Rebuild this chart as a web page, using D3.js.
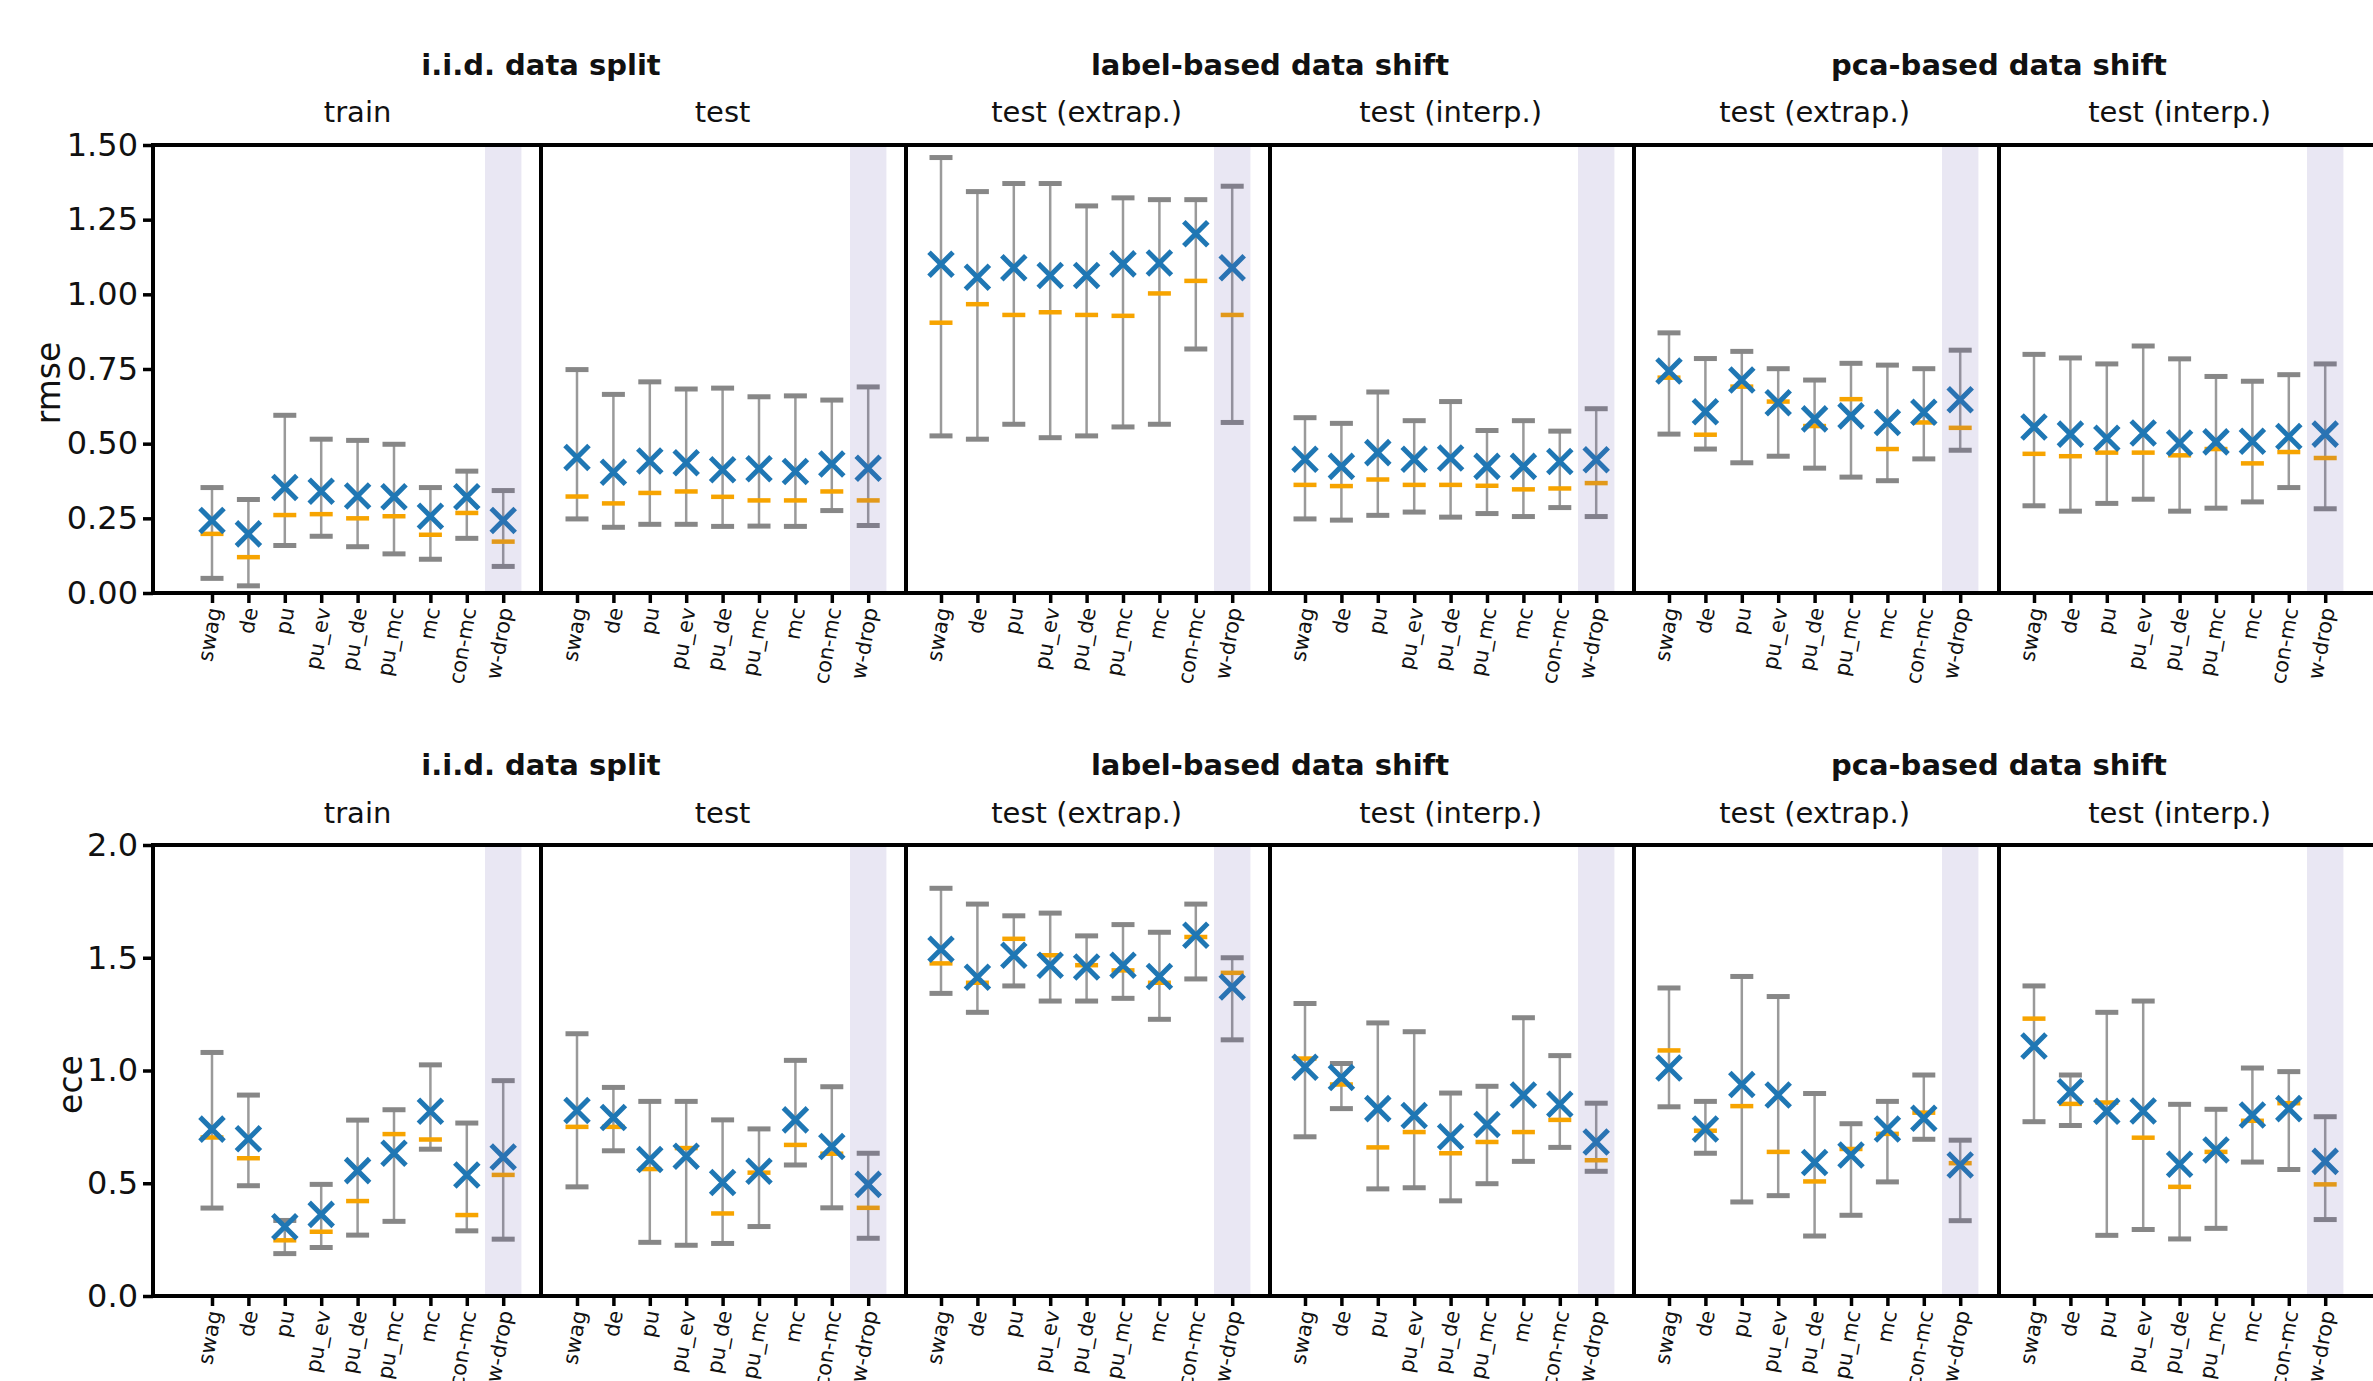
<!DOCTYPE html>
<html>
<head>
<meta charset="utf-8">
<script src="https://cdn.jsdelivr.net/npm/d3@7"></script>
<style>
  body { margin: 0; background: #fff; }
  text { font-family: "DejaVu Sans", sans-serif; }
</style>
</head>
<body>
<svg width="2373" height="1381"></svg>
<script>
// methods on the x axis
const methods = ["swag", "de", "pu", "pu_ev", "pu_de", "pu_mc", "mc", "con-mc", "w-drop"];
const groupTitles = ["i.i.d. data split", "label-based data shift", "pca-based data shift"];
const panelTitles = ["train", "test", "test (extrap.)", "test (interp.)", "test (extrap.)", "test (interp.)"];
const rmseTicks = [0, 0.25, 0.5, 0.75, 1.0, 1.25, 1.5];
const eceTicks = [0, 0.5, 1.0, 1.5, 2.0];

// rmse, one row per panel (train, test, label extrap, label interp, pca extrap, pca interp)
const rmseHigh = [
  [0.353, 0.313, 0.595, 0.515, 0.511, 0.498, 0.353, 0.408, 0.343],
  [0.748, 0.665, 0.707, 0.683, 0.686, 0.657, 0.660, 0.646, 0.690],
  [1.458, 1.344, 1.371, 1.371, 1.296, 1.323, 1.317, 1.317, 1.362],
  [0.587, 0.568, 0.673, 0.577, 0.641, 0.544, 0.577, 0.542, 0.617],
  [0.871, 0.785, 0.809, 0.751, 0.713, 0.769, 0.763, 0.751, 0.813],
  [0.799, 0.787, 0.767, 0.827, 0.784, 0.725, 0.709, 0.731, 0.767]
];
const rmseLow = [
  [0.049, 0.024, 0.159, 0.190, 0.155, 0.131, 0.113, 0.183, 0.089],
  [0.248, 0.220, 0.230, 0.230, 0.223, 0.224, 0.223, 0.276, 0.226],
  [0.526, 0.515, 0.565, 0.520, 0.526, 0.556, 0.565, 0.817, 0.571],
  [0.248, 0.244, 0.260, 0.271, 0.254, 0.266, 0.256, 0.286, 0.256],
  [0.532, 0.482, 0.436, 0.458, 0.418, 0.388, 0.376, 0.449, 0.478],
  [0.292, 0.274, 0.300, 0.314, 0.274, 0.284, 0.305, 0.353, 0.282]
];
const rmseMean = [
  [0.243, 0.198, 0.353, 0.341, 0.325, 0.322, 0.257, 0.322, 0.243],
  [0.454, 0.404, 0.442, 0.436, 0.413, 0.416, 0.407, 0.432, 0.418],
  [1.101, 1.057, 1.089, 1.063, 1.063, 1.102, 1.105, 1.203, 1.089],
  [0.448, 0.424, 0.470, 0.448, 0.452, 0.424, 0.424, 0.440, 0.446],
  [0.743, 0.607, 0.713, 0.637, 0.583, 0.593, 0.571, 0.605, 0.647],
  [0.556, 0.532, 0.518, 0.536, 0.502, 0.506, 0.508, 0.524, 0.532]
];
const rmseMedian = [
  [0.198, 0.120, 0.261, 0.264, 0.250, 0.257, 0.195, 0.268, 0.172],
  [0.323, 0.300, 0.335, 0.340, 0.322, 0.310, 0.310, 0.340, 0.310],
  [0.905, 0.967, 0.931, 0.940, 0.931, 0.928, 1.003, 1.045, 0.931],
  [0.362, 0.358, 0.380, 0.362, 0.362, 0.359, 0.347, 0.350, 0.368],
  [0.721, 0.530, 0.691, 0.641, 0.559, 0.649, 0.482, 0.571, 0.553],
  [0.466, 0.458, 0.470, 0.470, 0.461, 0.482, 0.434, 0.472, 0.452]
];

// ece
const eceHigh = [
  [1.080, 0.891, 0.335, 0.495, 0.780, 0.826, 1.025, 0.767, 0.955],
  [1.163, 0.925, 0.863, 0.863, 0.781, 0.741, 1.045, 0.928, 0.633],
  [1.808, 1.738, 1.686, 1.698, 1.597, 1.647, 1.613, 1.738, 1.500],
  [1.297, 1.031, 1.211, 1.172, 0.900, 0.930, 1.234, 1.066, 0.855],
  [1.366, 0.863, 1.417, 1.328, 0.898, 0.764, 0.863, 0.980, 0.691],
  [1.375, 0.980, 1.258, 1.308, 0.850, 0.828, 1.011, 0.995, 0.795]
];
const eceLow = [
  [0.390, 0.489, 0.188, 0.215, 0.270, 0.331, 0.651, 0.289, 0.252],
  [0.484, 0.644, 0.238, 0.225, 0.233, 0.308, 0.581, 0.391, 0.256],
  [1.342, 1.258, 1.375, 1.308, 1.308, 1.320, 1.227, 1.406, 1.136],
  [0.706, 0.831, 0.475, 0.480, 0.422, 0.498, 0.597, 0.659, 0.553],
  [0.839, 0.633, 0.417, 0.445, 0.266, 0.358, 0.506, 0.695, 0.334],
  [0.773, 0.756, 0.269, 0.295, 0.253, 0.300, 0.594, 0.561, 0.339]
];
const eceMean = [
  [0.740, 0.697, 0.307, 0.362, 0.556, 0.633, 0.819, 0.537, 0.616],
  [0.823, 0.792, 0.605, 0.620, 0.503, 0.553, 0.781, 0.663, 0.495],
  [1.538, 1.414, 1.511, 1.467, 1.459, 1.467, 1.417, 1.600, 1.370],
  [1.014, 0.969, 0.831, 0.800, 0.706, 0.761, 0.891, 0.850, 0.683],
  [1.011, 0.741, 0.938, 0.891, 0.592, 0.625, 0.741, 0.788, 0.581],
  [1.109, 0.906, 0.819, 0.820, 0.584, 0.647, 0.803, 0.831, 0.597]
];
const eceMedian = [
  [0.703, 0.611, 0.247, 0.285, 0.421, 0.718, 0.694, 0.359, 0.537],
  [0.750, 0.750, 0.563, 0.656, 0.366, 0.547, 0.670, 0.631, 0.391],
  [1.475, 1.389, 1.584, 1.511, 1.467, 1.444, 1.389, 1.592, 1.433],
  [1.053, 0.938, 0.659, 0.727, 0.633, 0.683, 0.727, 0.781, 0.602],
  [1.089, 0.733, 0.842, 0.639, 0.508, 0.652, 0.719, 0.813, 0.589],
  [1.230, 0.852, 0.858, 0.702, 0.484, 0.639, 0.777, 0.855, 0.495]
];

let svg = d3.select("svg");

// panel layout (pixels)
const panelLeft = [153, 541, 906, 1270, 1634, 1999];
const panelRight = [541, 906, 1270, 1634, 1999, 2392];
const firstTick = [212, 577, 941, 1305, 1669, 2034];
const step = 36.4;

const rows = [
  { label: "rmse", top: 145, bottom: 593, max: 1.5, ticks: rmseTicks, fmt: d3.format(".2f"),
    high: rmseHigh, low: rmseLow, mean: rmseMean, median: rmseMedian,
    labelX: 60, titleY: 75, subY: 122 },
  { label: "ece", top: 845, bottom: 1296, max: 2.0, ticks: eceTicks, fmt: d3.format(".1f"),
    high: eceHigh, low: eceLow, mean: eceMean, median: eceMedian,
    labelX: 82, titleY: 775, subY: 823 }
];

rows.forEach(function (r) {
  let y = d3.scaleLinear().domain([0, r.max]).range([r.bottom, r.top]);

  for (let p = 0; p < 6; p++) {
    let x = d3.scaleLinear().domain([0, 8]).range([firstTick[p], firstTick[p] + 8 * step]);
    let g = svg.append("g");
    let idx = d3.range(methods.length);

    // x axis with rotated method names
    let xa = g.append("g")
      .attr("transform", "translate(0," + r.bottom + ")")
      .call(d3.axisBottom(x).tickValues(idx).tickFormat(function (i) { return methods[i]; }).tickSize(10));
    xa.select(".domain").remove();
    xa.selectAll(".tick line").attr("stroke", "#000").attr("stroke-width", 3.5);
    xa.selectAll(".tick text")
      .attr("y", null).attr("dy", null)
      .attr("text-anchor", "end")
      .attr("transform", "translate(9,16) rotate(-80)")
      .attr("font-family", "DejaVu Sans")
      .attr("font-size", 21)
      .attr("fill", "#111");

    if (p === 0) {
      let ya = g.append("g")
        .attr("transform", "translate(" + panelLeft[0] + ",0)")
        .call(d3.axisLeft(y).tickValues(r.ticks).tickFormat(r.fmt).tickSize(10).tickPadding(5));
      ya.select(".domain").remove();
      ya.selectAll(".tick line").attr("stroke", "#000").attr("stroke-width", 3.5);
      ya.selectAll(".tick text").attr("font-family", "DejaVu Sans").attr("font-size", 32).attr("fill", "#111");

      svg.append("text")
        .attr("transform", "translate(" + r.labelX + "," + ((r.top + r.bottom) / 2 + 14) + ") rotate(-90)")
        .attr("text-anchor", "middle")
        .attr("font-size", 33)
        .attr("fill", "#111")
        .text(r.label);
    }

    // error bars
    g.selectAll(".err").data(idx).enter().append("line")
      .attr("x1", function (i) { return x(i); })
      .attr("x2", function (i) { return x(i); })
      .attr("y1", function (i) { return y(r.high[p][i]); })
      .attr("y2", function (i) { return y(r.low[p][i]); })
      .attr("stroke", "#9a9a9a")
      .attr("stroke-width", 2.5);
    [r.high[p], r.low[p]].forEach(function (vals) {
      g.selectAll(null).data(idx).enter().append("line")
        .attr("x1", function (i) { return x(i) - 11.5; })
        .attr("x2", function (i) { return x(i) + 11.5; })
        .attr("y1", function (i) { return y(vals[i]); })
        .attr("y2", function (i) { return y(vals[i]); })
        .attr("stroke", "#878787")
        .attr("stroke-width", 5);
    });

    // median dash
    g.selectAll(".med").data(idx).enter().append("line")
      .attr("x1", function (i) { return x(i) - 11.5; })
      .attr("x2", function (i) { return x(i) + 11.5; })
      .attr("y1", function (i) { return y(r.median[p][i]); })
      .attr("y2", function (i) { return y(r.median[p][i]); })
      .attr("stroke", "#f7a400")
      .attr("stroke-width", 4.5);

    // mean cross
    g.selectAll(".mean").data(idx).enter().append("path")
      .attr("transform", function (i) { return "translate(" + x(i) + "," + y(r.mean[p][i]) + ")"; })
      .attr("d", "M-12,-12L12,12M-12,12L12,-12")
      .attr("stroke", "#1f77b4")
      .attr("stroke-width", 5)
      .attr("fill", "none");

    // highlight for w-drop
    g.append("rect")
      .attr("x", x(7.5))
      .attr("width", x(8.5) - x(7.5))
      .attr("y", r.top)
      .attr("height", r.bottom - r.top)
      .attr("fill", "rgb(110,95,175)")
      .attr("opacity", 0.15);

    // frame
    g.append("rect")
      .attr("x", panelLeft[p])
      .attr("y", r.top)
      .attr("width", panelRight[p] - panelLeft[p])
      .attr("height", r.bottom - r.top)
      .attr("fill", "none")
      .attr("stroke", "#000")
      .attr("stroke-width", 4);

    svg.append("text")
      .attr("x", x(4))
      .attr("y", r.subY)
      .attr("text-anchor", "middle")
      .attr("font-size", 29)
      .attr("fill", "#111")
      .text(panelTitles[p]);
  }

  for (let k = 0; k < 3; k++) {
    svg.append("text")
      .attr("x", panelLeft[2 * k + 1])
      .attr("y", r.titleY)
      .attr("text-anchor", "middle")
      .attr("font-size", 29)
      .attr("font-weight", "bold")
      .attr("fill", "#111")
      .text(groupTitles[k]);
  }
});
</script>
</body>
</html>
